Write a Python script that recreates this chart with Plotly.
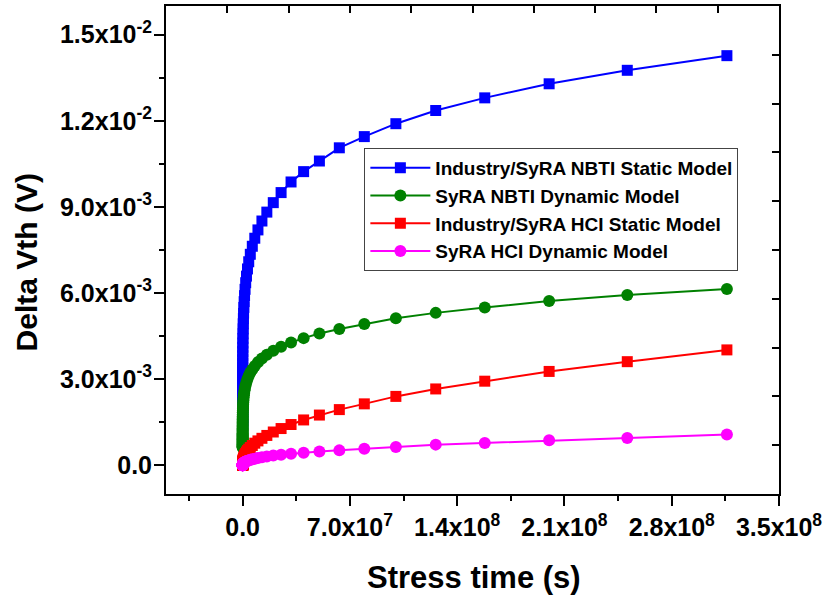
import plotly.graph_objects as go

# Stress time (s)
stress_time = [
    1.00e2, 1.26e2, 1.58e2, 2.00e2, 2.51e2, 3.16e2, 3.98e2, 5.01e2, 6.31e2, 7.94e2,
    1.00e3, 1.26e3, 1.58e3, 2.00e3, 2.51e3, 3.16e3, 3.98e3, 5.01e3, 6.31e3, 7.94e3,
    1.00e4, 1.26e4, 1.58e4, 2.00e4, 2.51e4, 3.16e4, 3.98e4, 5.01e4, 6.31e4, 7.94e4,
    1.00e5, 1.26e5, 1.58e5, 2.00e5, 2.51e5, 3.16e5, 3.98e5, 5.01e5, 6.31e5, 7.94e5,
    1.00e6, 1.26e6, 1.58e6, 2.00e6, 2.51e6, 3.16e6, 3.98e6, 5.01e6, 6.31e6, 7.94e6,
    1.00e7, 1.26e7, 1.58e7, 2.00e7, 2.51e7, 3.16e7, 3.98e7, 5.01e7, 6.31e7, 7.94e7,
    1.00e8, 1.26e8, 1.58e8, 2.00e8, 2.51e8, 3.16e8,
]

# Delta Vth in mV
nbti_static_mV = [
    1.33, 1.38, 1.43, 1.48, 1.54, 1.59, 1.65, 1.71, 1.78, 1.84,
    1.91, 1.98, 2.06, 2.13, 2.21, 2.29, 2.38, 2.47, 2.56, 2.65,
    2.75, 2.85, 2.96, 3.07, 3.18, 3.30, 3.42, 3.55, 3.68, 3.82,
    3.96, 4.11, 4.26, 4.42, 4.58, 4.75, 4.93, 5.11, 5.30, 5.50,
    5.70, 5.91, 6.13, 6.36, 6.59, 6.84, 7.09, 7.35, 7.63, 7.91,
    8.20, 8.51, 8.82, 9.15, 9.50, 9.87, 10.23, 10.60, 11.06, 11.45,
    11.90, 12.36, 12.80, 13.29, 13.76, 14.27,
]
nbti_dynamic_mV = [
    0.62, 0.64, 0.66, 0.68, 0.71, 0.73, 0.76, 0.79, 0.82, 0.85,
    0.88, 0.91, 0.94, 0.97, 1.01, 1.05, 1.08, 1.12, 1.16, 1.20,
    1.25, 1.29, 1.34, 1.39, 1.44, 1.49, 1.54, 1.60, 1.65, 1.71,
    1.77, 1.84, 1.90, 1.97, 2.04, 2.12, 2.19, 2.27, 2.35, 2.44,
    2.52, 2.61, 2.71, 2.80, 2.90, 3.01, 3.12, 3.23, 3.34, 3.46,
    3.59, 3.72, 3.85, 3.99, 4.13, 4.28, 4.43, 4.59, 4.75, 4.92,
    5.12, 5.31, 5.50, 5.72, 5.93, 6.14,
]
hci_static_mV = [
    0.005, 0.005, 0.006, 0.007, 0.007, 0.008, 0.009, 0.010, 0.011, 0.012,
    0.014, 0.015, 0.017, 0.018, 0.020, 0.023, 0.025, 0.028, 0.031, 0.034,
    0.038, 0.042, 0.047, 0.052, 0.058, 0.064, 0.07, 0.08, 0.09, 0.10,
    0.11, 0.12, 0.13, 0.15, 0.16, 0.18, 0.20, 0.22, 0.25, 0.27,
    0.30, 0.34, 0.37, 0.41, 0.46, 0.51, 0.56, 0.62, 0.69, 0.77,
    0.85, 0.94, 1.04, 1.16, 1.28, 1.42, 1.58, 1.75, 1.94, 2.14,
    2.40, 2.66, 2.93, 3.27, 3.61, 4.02,
]
hci_dynamic_mV = [
    0.002, 0.002, 0.002, 0.003, 0.003, 0.003, 0.004, 0.004, 0.004, 0.005,
    0.005, 0.006, 0.006, 0.007, 0.008, 0.009, 0.009, 0.010, 0.011, 0.013,
    0.014, 0.015, 0.017, 0.018, 0.020, 0.022, 0.025, 0.027, 0.030, 0.033,
    0.036, 0.040, 0.044, 0.049, 0.054, 0.060, 0.065, 0.07, 0.08, 0.09,
    0.10, 0.11, 0.12, 0.13, 0.14, 0.16, 0.17, 0.19, 0.21, 0.23,
    0.25, 0.28, 0.31, 0.34, 0.37, 0.40, 0.44, 0.48, 0.52, 0.58,
    0.64, 0.72, 0.78, 0.87, 0.95, 1.07,
]

series_names = [
    "Industry/SyRA NBTI Static Model",
    "SyRA NBTI Dynamic Model",
    "Industry/SyRA HCI Static Model",
    "SyRA HCI Dynamic Model",
]
series_values = [nbti_static_mV, nbti_dynamic_mV, hci_static_mV, hci_dynamic_mV]
series_colors = ["#0000FF", "#008000", "#FF0000", "#FF00FF"]
series_symbols = ["square", "circle", "square", "circle"]

x_tickvals = [0, 7.0e7, 1.4e8, 2.1e8, 2.8e8, 3.5e8]
x_ticktext = ["0.0", "7.0x10<sup>7</sup>", "1.4x10<sup>8</sup>", "2.1x10<sup>8</sup>",
              "2.8x10<sup>8</sup>", "3.5x10<sup>8</sup>"]
y_tickvals = [0, 3.0e-3, 6.0e-3, 9.0e-3, 1.2e-2, 1.5e-2]
y_ticktext = ["0.0", "3.0x10<sup>-3</sup>", "6.0x10<sup>-3</sup>", "9.0x10<sup>-3</sup>",
              "1.2x10<sup>-2</sup>", "1.5x10<sup>-2</sup>"]

FONT = "Arial, Liberation Sans, sans-serif"

fig = go.Figure()
for name, vals, col, sym in zip(series_names, series_values, series_colors, series_symbols):
    fig.add_trace(go.Scatter(
        x=stress_time, y=[v * 1e-3 for v in vals], name=name, mode="lines+markers",
        line=dict(color=col, width=2),
        marker=dict(symbol=sym, color=col, size=11 if sym == "square" else 12),
    ))
# dummy trace to realize the top/right frame axes
fig.add_trace(go.Scatter(x=[None], y=[None], xaxis="x2", yaxis="y2",
                         showlegend=False, hoverinfo="skip"))

axis_common = dict(showline=True, linewidth=2, linecolor="black", showgrid=False,
                   zeroline=False, ticks="outside", tickwidth=2, tickcolor="black",
                   ticklen=10,
                   tickfont=dict(family=FONT, size=25, color="black", weight="bold"))

fig.update_layout(
    width=828, height=603,
    margin=dict(l=166, r=47, t=6, b=109),
    paper_bgcolor="white", plot_bgcolor="white",
    xaxis=dict(range=[-5e7, 3.5e8], tickmode="array", tickvals=x_tickvals,
               ticktext=x_ticktext,
               minor=dict(tickmode="linear", tick0=0, dtick=3.5e7, ticks="outside",
                          ticklen=5, tickwidth=2, tickcolor="black"),
               **axis_common),
    yaxis=dict(range=[-1e-3, 1.6e-2], tickmode="array", tickvals=y_tickvals,
               ticktext=y_ticktext, ticklabelstandoff=-3,
               minor=dict(tickmode="linear", tick0=0, dtick=1.5e-3, ticks="outside",
                          ticklen=5, tickwidth=2, tickcolor="black"),
               **axis_common),
    xaxis2=dict(overlaying="x", side="top", range=[0, 10], tickmode="linear", tick0=0,
                dtick=1, ticks="inside", ticklen=7, tickwidth=2, tickcolor="black",
                showticklabels=False, showline=True, linewidth=2, linecolor="black",
                showgrid=False, zeroline=False),
    yaxis2=dict(overlaying="y", side="right", range=[0, 10], tickmode="linear", tick0=0,
                dtick=1, ticks="inside", ticklen=7, tickwidth=2, tickcolor="black",
                showticklabels=False, showline=True, linewidth=2, linecolor="black",
                showgrid=False, zeroline=False),
    legend=dict(x=0.3236, y=0.709, xanchor="left", yanchor="top",
                bgcolor="white", bordercolor="#444", borderwidth=1,
                font=dict(family=FONT, size=19, color="black", weight="bold"),
                itemwidth=60, tracegroupgap=0),
    showlegend=True,
    annotations=[
        dict(text="Stress time (s)", xref="paper", yref="paper", x=0.5024, y=-0.172,
             xanchor="center", yanchor="middle", showarrow=False,
             font=dict(family=FONT, size=31, color="black", weight="bold")),
        dict(text="Delta Vth (V)", xref="paper", yref="paper", x=-0.228, y=0.475,
             xanchor="center", yanchor="middle", showarrow=False, textangle=-90,
             font=dict(family=FONT, size=30, color="black", weight="bold")),
    ],
)

fig.write_html("out.html")
